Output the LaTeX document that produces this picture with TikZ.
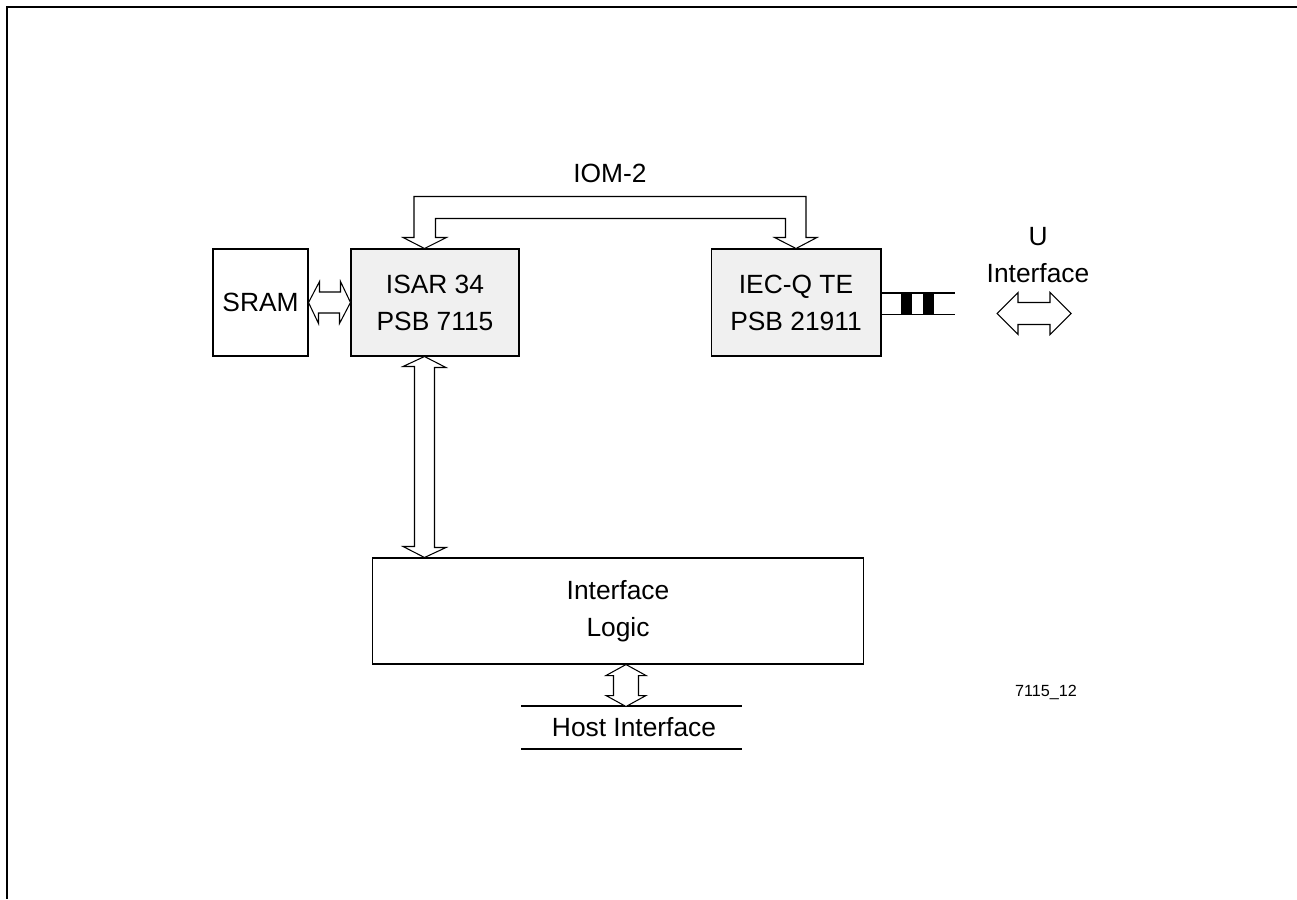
\documentclass[tikz,border=0pt]{standalone}
\usepackage{fontspec}
\setmainfont{Liberation Sans}
\usetikzlibrary{calc}
\definecolor{chipgray}{RGB}{240,240,240}
\newcommand\lbl{\fontsize{15}{21}\selectfont}
\newcommand\smalllbl{\fontsize{9.2}{11}\selectfont}
\tikzset{
  box/.style={draw=black, line width=0.6pt, inner sep=0pt, align=center, font=\lbl},
  chip/.style={box, fill=chipgray},
  blockarrow/.style={draw=black, line width=0.6pt, fill=white, line join=miter},
  plainline/.style={draw=black, line width=0.6pt},
  frameline/.style={draw=black, line width=1.7pt},
  label/.style={inner sep=0pt, align=center, font=\lbl},
}
\begin{document}
\begin{tikzpicture}[x=0.02cm, y=-0.02cm]
\useasboundingbox (0,0) rectangle (1297,899);
% frame
\coordinate (fc) at (7,7);
\coordinate (fr) at (1297,7);
\coordinate (fb) at (7,899);
\draw[frameline] (fr) -- (fc) -- (fb);

% boxes
\node[box, minimum width=1.9cm, minimum height=2.14cm] (sram) at (260.5,302.5) {SRAM};
\node[chip, minimum width=3.36cm, minimum height=2.14cm] (isar) at (435,302.5) {ISAR 34\\PSB 7115};
\node[chip, minimum width=3.4cm, minimum height=2.14cm] (iec) at (796,302.5) {IEC-Q TE\\PSB 21911};
\node[box, minimum width=9.84cm, minimum height=2.12cm] (logic) at (618,611) {Interface\\Logic};

% labels
\node[label] (iom) at (610,173) {IOM-2};
\node[label] (uif) at (1038,255) {U\\Interface};
\node[label] (host) at (634,727.5) {Host Interface};
\node[inner sep=0pt, font=\smalllbl] (code) at (1046,692) {7115\_12};

% SRAM <-> ISAR
\draw[blockarrow] (sram.east) -- ++(11,-21) -- ++(0,10.5) -- ++(21,0) -- ++(0,-10.5)
  -- (isar.west) -- ++(-11,21) -- ++(0,-10.5) -- ++(-21,0) -- ++(0,10.5) -- cycle;

% ISAR <-> Interface Logic
\path (isar.south west) ++(74,0) coordinate (vtop);
\coordinate (vbot) at (vtop |- logic.north);
\draw[blockarrow] (vtop) -- ++(21.5,11) -- ++(-11.5,0) -- ++(0,180) -- ++(11.5,0)
  -- (vbot) -- ++(-21.5,-11) -- ++(11.5,0) -- ++(0,-180) -- ++(-11.5,0) -- cycle;

% IOM-2 bus
\coordinate (ltip) at (vtop |- isar.north);
\coordinate (rtip) at (iec.north);
\draw[blockarrow] (ltip) -- ++(-21.5,-11) -- ++(11,0) -- ++(0,-41) -- ++(392,0) -- ++(0,41)
  -- ++(11,0) -- (rtip) -- ++(-21.5,-11) -- ++(11,0) -- ++(0,-19) -- ++(-350,0)
  -- ++(0,19) -- ++(11,0) -- cycle;

% Interface Logic <-> Host
\path (logic.south) ++(8,0) coordinate (htop);
\coordinate (hbot) at ($(htop)+(0,42)$);
\coordinate (hl1) at (521,706);
\coordinate (hr1) at (742,706);
\coordinate (hl2) at (521,749);
\coordinate (hr2) at (742,749);
\draw[plainline] (hl1) -- (hr1);
\draw[plainline] (hl2) -- (hr2);
\draw[blockarrow] (htop) -- ++(20,11) -- ++(-7.5,0) -- ++(0,20) -- ++(7.5,0)
  -- (hbot) -- ++(-20,-11) -- ++(7.5,0) -- ++(0,-20) -- ++(-7.5,0) -- cycle;

% U interface line
\coordinate (ua) at (iec.east |- 0,293);
\coordinate (ub) at (iec.east |- 0,314.5);
\coordinate (uae) at (955,293);
\coordinate (ube) at (955,314.5);
\draw[plainline] (ua) -- (uae);
\draw[plainline] (ub) -- (ube);
\fill[black] (901,293) rectangle (912,314.5);
\fill[black] (922.5,293) rectangle (934,314.5);

% U double arrow
\coordinate (ul) at (997,313.5);
\coordinate (ur) at (1071,313.5);
\draw[blockarrow] (ul) -- ++(21,-21) -- ++(0,10) -- ++(32,0) -- ++(0,-10)
  -- (ur) -- ++(-21,21) -- ++(0,-10) -- ++(-32,0) -- ++(0,10) -- cycle;
\end{tikzpicture}
\end{document}
